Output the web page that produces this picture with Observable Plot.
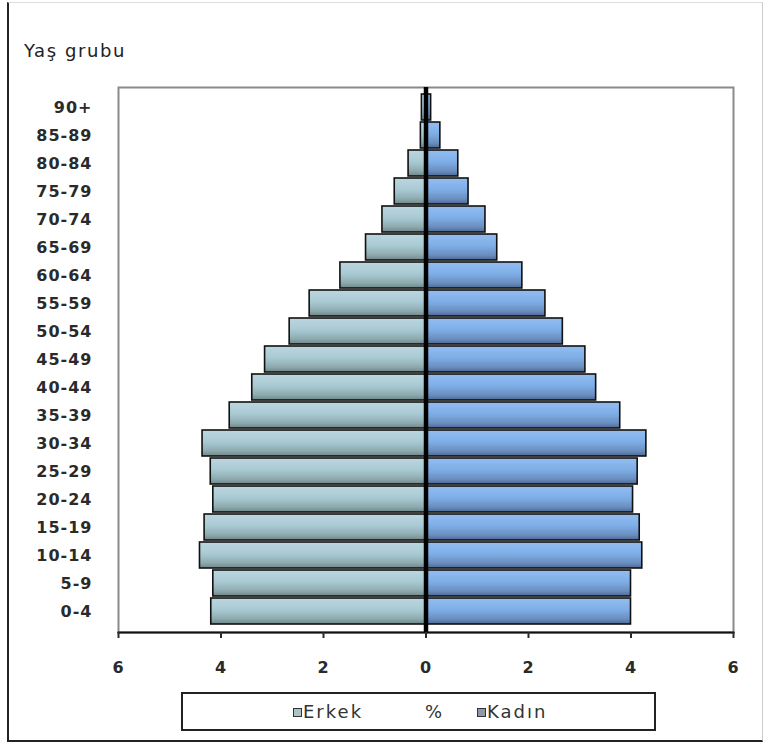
<!DOCTYPE html>
<html>
<head>
<meta charset="utf-8">
<script src="https://cdn.jsdelivr.net/npm/d3@7"></script>
<script src="https://cdn.jsdelivr.net/npm/@observablehq/plot@0.6"></script>
<style>
  html, body { margin: 0; padding: 0; background: #fff; }
  #wrap { position: relative; width: 765px; height: 749px; background: #fff; overflow: hidden; font-family: "DejaVu Sans", sans-serif; }
  #border { position: absolute; left: 7px; top: 2px; width: 756px; height: 740px; box-sizing: border-box; z-index: 5; pointer-events: none;
            border-left: 2px solid #222; border-bottom: 2px solid #222; border-top: 1px solid #ddd; border-right: 1px solid #ccc; }
  #title { position: absolute; left: 24px; top: 40px; font-size: 18px; color: #222; letter-spacing: 1.6px; }
  #chart { position: absolute; left: 0; top: 70px; }
  #chart svg text { letter-spacing: 1px; }
  #legend { position: absolute; left: 181px; top: 692px; width: 475px; height: 39px; box-sizing: border-box; border: 2px solid #222; background: #fff; }
  .li { position: absolute; top: 7px; font-size: 18px; color: #333; letter-spacing: 2px; line-height: 22px; }
  .sw { position: absolute; top: 14px; width: 7px; height: 7px; border: 1.5px solid #333; }
</style>
</head>
<body>
<div id="wrap">
  <div id="title">Yaş grubu</div>
  <div id="chart"></div>
  <div id="legend">
    <div class="sw" style="left:110px; background:#a9c4c6;"></div>
    <div class="li" style="left:120px;">Erkek</div>
    <div class="li" style="left:242px;">%</div>
    <div class="sw" style="left:294px; background:#8a9aab;"></div>
    <div class="li" style="left:304px;">Kadın</div>
  </div>
  <div id="border"></div>
</div>
<script>
// Age groups, bottom (youngest) to top (oldest)
const ageGroups = ["0-4","5-9","10-14","15-19","20-24","25-29","30-34","35-39","40-44","45-49","50-54","55-59","60-64","65-69","70-74","75-79","80-84","85-89","90+"];
// Erkek (male) percentages
const erkek = [4.19, 4.15, 4.41, 4.32, 4.15, 4.20, 4.36, 3.83, 3.39, 3.14, 2.66, 2.27, 1.67, 1.17, 0.85, 0.61, 0.34, 0.10, 0.08];
// Kadın (female) percentages
const kadin = [4.00, 4.00, 4.22, 4.17, 4.04, 4.13, 4.30, 3.79, 3.32, 3.11, 2.67, 2.33, 1.88, 1.39, 1.16, 0.83, 0.63, 0.28, 0.10];
// x-axis ticks
const xTicks = [-6, -4, -2, 0, 2, 4, 6];

const rows = ageGroups.map((a, i) => ({age: a, erkek: erkek[i], kadin: kadin[i]}));
const domainTopDown = ageGroups.slice().reverse();

const plot = Plot.plot({
  width: 765,
  height: 620,
  marginLeft: 118,
  marginRight: 32,
  marginTop: 17,
  marginBottom: 58,
  style: {background: "transparent", color: "#2a2a2a", fontFamily: "DejaVu Sans, sans-serif", fontSize: "16px", fontWeight: "bold", overflow: "visible"},
  x: {domain: [-6, 6]},
  y: {domain: domainTopDown, paddingInner: 0.07, paddingOuter: 0.02},
  marks: [
    Plot.frame({stroke: "#8a8a8a", strokeWidth: 2}),
    Plot.barX(rows, {y: "age", x1: 0, x2: d => -d.erkek, fill: "url(#gradErkek)", stroke: "#111", strokeWidth: 1.6}),
    Plot.barX(rows, {y: "age", x1: 0, x2: d => d.kadin, fill: "url(#gradKadin)", stroke: "#111", strokeWidth: 1.6}),
    Plot.ruleX([0], {stroke: "#000", strokeWidth: 4.5}),
    Plot.frame({anchor: "bottom", stroke: "#111", strokeWidth: 2}),
    Plot.axisX({ticks: xTicks, tickFormat: d => Math.abs(d), tickSize: 6, tickPadding: 23, strokeWidth: 2, label: null}),
    Plot.axisY({tickSize: 0, tickPadding: 26, label: null})
  ]
});

// gradient definitions for bar fills
const ns = "http://www.w3.org/2000/svg";
const defs = document.createElementNS(ns, "defs");
function grad(id, stops) {
  const g = document.createElementNS(ns, "linearGradient");
  g.setAttribute("id", id);
  g.setAttribute("x1", "0"); g.setAttribute("y1", "0");
  g.setAttribute("x2", "0"); g.setAttribute("y2", "1");
  stops.forEach(([o, c]) => {
    const s = document.createElementNS(ns, "stop");
    s.setAttribute("offset", o); s.setAttribute("stop-color", c);
    g.appendChild(s);
  });
  defs.appendChild(g);
}
grad("gradErkek", [["0", "#bcd6df"], ["0.45", "#a9cad3"], ["0.8", "#8eaaaf"], ["1", "#6f8787"]]);
grad("gradKadin", [["0", "#93bdf0"], ["0.45", "#7eaee6"], ["0.8", "#6a8fc0"], ["1", "#4f6a92"]]);
plot.insertBefore(defs, plot.firstChild);

document.getElementById("chart").appendChild(plot);
</script>
</body>
</html>
